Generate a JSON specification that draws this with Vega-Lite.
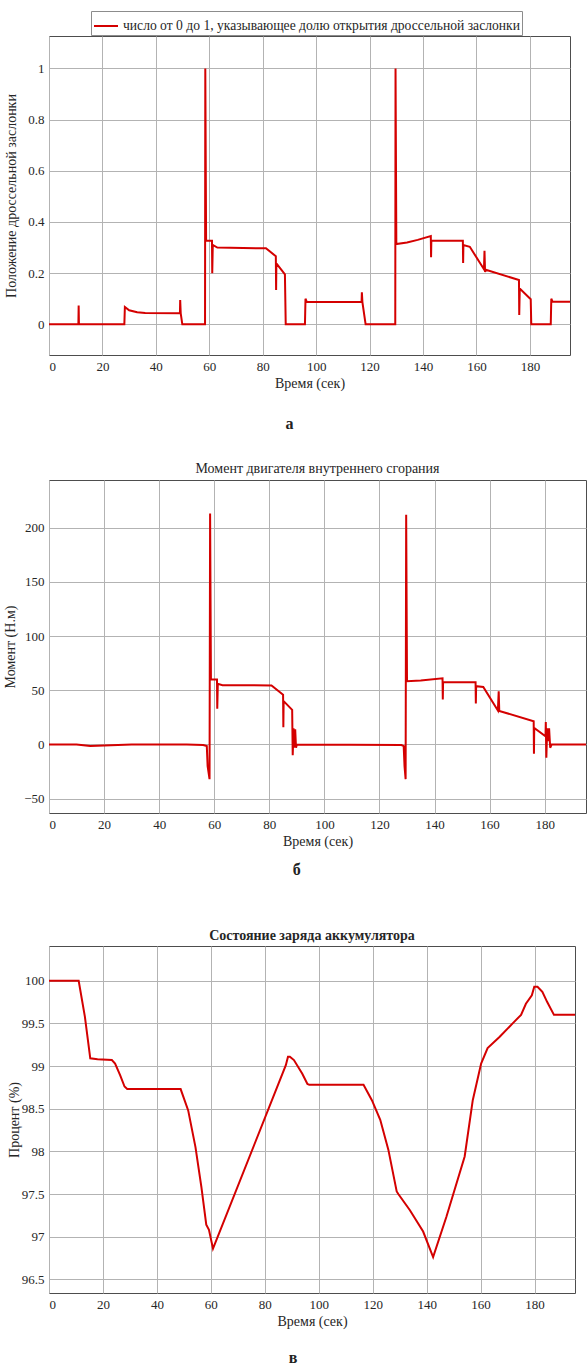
{
  "$schema": "https://vega.github.io/schema/vega-lite/v6.json",
  "padding": {"left": 3, "top": 10, "right": 0, "bottom": 0},
  "background": "white",
  "spacing": 29,
  "config": {
    "font": "Liberation Serif",
    "view": {"stroke": "#4d4d4d", "strokeWidth": 1},
    "axis": {"labelFont": "Liberation Serif", "labelFontSize": 13, "labelColor": "#262626", "titleFont": "Liberation Serif", "titleFontSize": 14, "titleFontWeight": "normal", "titleColor": "#262626", "gridColor": "#b3b3b3", "gridOpacity": 1, "domain": false, "ticks": false, "labelPadding": 5},
    "axisX": {"titlePadding": 3},
    "title": {"font": "Liberation Serif", "fontSize": 14, "color": "#262626"}
  },
  "datasets": {
    "throttle": [
      {"t": 0, "v": 0}, {"t": 11.0, "v": 0}, {"t": 11.1, "v": 0.073}, {"t": 11.2, "v": 0},
      {"t": 28.2, "v": 0}, {"t": 28.4, "v": 0.068}, {"t": 30, "v": 0.055}, {"t": 33, "v": 0.047}, {"t": 36, "v": 0.044},
      {"t": 49.0, "v": 0.043}, {"t": 49.1, "v": 0.095}, {"t": 49.3, "v": 0.043}, {"t": 49.9, "v": 0},
      {"t": 58.4, "v": 0}, {"t": 58.5, "v": 1.0}, {"t": 58.8, "v": 0.327}, {"t": 61.0, "v": 0.327}, {"t": 61.1, "v": 0.2},
      {"t": 61.3, "v": 0.31}, {"t": 63, "v": 0.3}, {"t": 81.2, "v": 0.297}, {"t": 84.9, "v": 0.266}, {"t": 85.0, "v": 0.134},
      {"t": 85.1, "v": 0.238}, {"t": 88.3, "v": 0.195}, {"t": 88.6, "v": 0},
      {"t": 95.8, "v": 0}, {"t": 96.0, "v": 0.1}, {"t": 96.5, "v": 0.087}, {"t": 117.0, "v": 0.087}, {"t": 117.1, "v": 0.125},
      {"t": 117.3, "v": 0.087}, {"t": 118.5, "v": 0},
      {"t": 129.6, "v": 0}, {"t": 129.7, "v": 1.0}, {"t": 130.0, "v": 0.314}, {"t": 134, "v": 0.32}, {"t": 138, "v": 0.33},
      {"t": 142.9, "v": 0.345}, {"t": 143.0, "v": 0.262}, {"t": 143.1, "v": 0.327}, {"t": 154.9, "v": 0.327}, {"t": 155.0, "v": 0.24},
      {"t": 155.1, "v": 0.31}, {"t": 157.5, "v": 0.303}, {"t": 162.8, "v": 0.215}, {"t": 163.0, "v": 0.287}, {"t": 163.2, "v": 0.205},
      {"t": 163.5, "v": 0.213}, {"t": 175.9, "v": 0.173}, {"t": 176.0, "v": 0.036}, {"t": 176.2, "v": 0.14}, {"t": 180.3, "v": 0.098},
      {"t": 180.5, "v": 0}, {"t": 187.8, "v": 0}, {"t": 188.0, "v": 0.1}, {"t": 188.5, "v": 0.088}, {"t": 195, "v": 0.088}
    ],
    "torque": [
      {"t": 0, "v": 0}, {"t": 10, "v": 0}, {"t": 15, "v": -1.5}, {"t": 20, "v": -1}, {"t": 25, "v": -0.5}, {"t": 30, "v": 0},
      {"t": 50, "v": 0}, {"t": 56, "v": -0.5}, {"t": 57.3, "v": -1.5}, {"t": 57.6, "v": -20}, {"t": 58.3, "v": -32},
      {"t": 58.5, "v": 213}, {"t": 58.8, "v": 60}, {"t": 61.0, "v": 60}, {"t": 61.1, "v": 33}, {"t": 61.3, "v": 56},
      {"t": 63, "v": 54.7}, {"t": 80.8, "v": 54.5}, {"t": 85.0, "v": 46}, {"t": 85.1, "v": 16}, {"t": 85.2, "v": 40},
      {"t": 88.3, "v": 32}, {"t": 88.5, "v": -10}, {"t": 88.8, "v": 15}, {"t": 89.1, "v": -3}, {"t": 89.4, "v": 14},
      {"t": 89.7, "v": -3}, {"t": 90, "v": 0}, {"t": 128, "v": -0.5}, {"t": 128.8, "v": -1.5}, {"t": 129.1, "v": -20},
      {"t": 129.5, "v": -32}, {"t": 129.7, "v": 212}, {"t": 130.0, "v": 58.4}, {"t": 135, "v": 59}, {"t": 142.9, "v": 61},
      {"t": 143.0, "v": 41.5}, {"t": 143.1, "v": 57.5}, {"t": 154.9, "v": 57.5}, {"t": 155.0, "v": 37.8}, {"t": 155.1, "v": 53.8},
      {"t": 157.7, "v": 53}, {"t": 163.0, "v": 31.4}, {"t": 163.3, "v": 49}, {"t": 163.5, "v": 31}, {"t": 176.0, "v": 21.5},
      {"t": 176.1, "v": -8.6}, {"t": 176.2, "v": 15.3}, {"t": 180.3, "v": 7.6}, {"t": 180.4, "v": 20.8}, {"t": 180.6, "v": -12.3},
      {"t": 180.9, "v": 15}, {"t": 181.2, "v": 3}, {"t": 181.6, "v": 15}, {"t": 182, "v": -3}, {"t": 182.5, "v": 0}, {"t": 195, "v": 0}
    ],
    "soc": [
      {"t": 0, "v": 100}, {"t": 11, "v": 100}, {"t": 13.3, "v": 99.58}, {"t": 15.3, "v": 99.09}, {"t": 18, "v": 99.08},
      {"t": 23.3, "v": 99.07}, {"t": 24.5, "v": 99.03}, {"t": 26.4, "v": 98.89}, {"t": 28, "v": 98.76}, {"t": 29, "v": 98.73},
      {"t": 48.8, "v": 98.73}, {"t": 51.6, "v": 98.48}, {"t": 54.3, "v": 98.05}, {"t": 56.5, "v": 97.58}, {"t": 58.3, "v": 97.14},
      {"t": 59.3, "v": 97.08}, {"t": 60.8, "v": 96.86}, {"t": 87.8, "v": 99.01}, {"t": 88.6, "v": 99.11}, {"t": 89.3, "v": 99.11},
      {"t": 90.8, "v": 99.07}, {"t": 93.9, "v": 98.91}, {"t": 95.8, "v": 98.79}, {"t": 96.5, "v": 98.78}, {"t": 116.6, "v": 98.78},
      {"t": 119.7, "v": 98.6}, {"t": 122.8, "v": 98.37}, {"t": 125.8, "v": 98.02}, {"t": 128.9, "v": 97.53}, {"t": 129.5, "v": 97.5},
      {"t": 133.8, "v": 97.31}, {"t": 138.7, "v": 97.06}, {"t": 142.4, "v": 96.76}, {"t": 147.3, "v": 97.23}, {"t": 154.1, "v": 97.94},
      {"t": 157.1, "v": 98.6}, {"t": 160.2, "v": 99.03}, {"t": 162.6, "v": 99.21}, {"t": 167, "v": 99.34}, {"t": 171.9, "v": 99.5},
      {"t": 175, "v": 99.6}, {"t": 176.8, "v": 99.73}, {"t": 179, "v": 99.83}, {"t": 179.9, "v": 99.93}, {"t": 181.1, "v": 99.93},
      {"t": 182.9, "v": 99.87}, {"t": 184.7, "v": 99.75}, {"t": 187.2, "v": 99.6}, {"t": 195, "v": 99.6}
    ]
  },
  "vconcat": [
    {
      "title": {"text": "а", "orient": "bottom", "anchor": "middle", "frame": "bounds", "font": "Liberation Serif", "fontWeight": "bold", "fontSize": 16, "offset": 25, "color": "#222"},
      "vconcat": [
        {
          "width": 521, "height": 319,
          "data": {"name": "throttle"},
          "mark": {"type": "line", "strokeWidth": 2, "interpolate": "linear"},
          "encoding": {
            "x": {"field": "t", "type": "quantitative", "scale": {"domain": [0, 195], "nice": false, "zero": false},
                  "axis": {"values": [0, 20, 40, 60, 80, 100, 120, 140, 160, 180], "title": "Время (сек)"}},
            "y": {"field": "v", "type": "quantitative", "scale": {"domain": [-0.12, 1.127], "nice": false, "zero": false},
                  "axis": {"values": [0, 0.2, 0.4, 0.6, 0.8, 1], "format": "~g", "title": "Положение дроссельной заслонки", "titlePadding": 9}},
            "color": {"datum": "число от 0 до 1, указывающее долю открытия дроссельной заслонки", "type": "nominal",
                      "scale": {"range": ["#d40000"]},
                      "legend": {"orient": "none", "legendX": 42, "legendY": -25, "direction": "horizontal", "title": null, "symbolType": "stroke", "symbolSize": 576, "symbolStrokeWidth": 2,
                                 "labelFont": "Liberation Serif", "labelFontSize": 13.6, "labelColor": "#262626", "labelLimit": 700,
                                 "strokeColor": "#8c8c8c", "fillColor": "white", "padding": 2}}
          }
        }
      ]
    },
    {
      "title": {"text": ["б", " "], "orient": "bottom", "anchor": "middle", "frame": "bounds", "font": "Liberation Serif", "fontWeight": "bold", "fontSize": 16, "lineHeight": 21, "offset": 13, "color": "#222"},
      "vconcat": [
        {
          "title": {"text": "Момент двигателя внутреннего сгорания", "fontWeight": "normal", "offset": 4, "anchor": "middle", "frame": "group"},
          "width": 537, "height": 333,
          "data": {"name": "torque"},
          "mark": {"type": "line", "strokeWidth": 2, "color": "#d40000"},
          "encoding": {
            "x": {"field": "t", "type": "quantitative", "scale": {"domain": [0, 195], "nice": false, "zero": false},
                  "axis": {"values": [0, 20, 40, 60, 80, 100, 120, 140, 160, 180], "title": "Время (сек)"}},
            "y": {"field": "v", "type": "quantitative", "scale": {"domain": [-63.2, 244], "nice": false, "zero": false},
                  "axis": {"values": [-50, 0, 50, 100, 150, 200], "title": "Момент (Н.м)", "titlePadding": 6}}
          }
        }
      ]
    },
    {
      "title": {"text": "в", "orient": "bottom", "anchor": "middle", "frame": "bounds", "font": "Liberation Serif", "fontWeight": "bold", "fontSize": 16, "offset": 21, "color": "#222"},
      "vconcat": [
        {
          "title": {"text": "Состояние заряда аккумулятора", "fontWeight": "bold", "offset": 3, "anchor": "middle", "frame": "group"},
          "width": 526, "height": 347,
          "data": {"name": "soc"},
          "mark": {"type": "line", "strokeWidth": 2, "color": "#d40000"},
          "encoding": {
            "x": {"field": "t", "type": "quantitative", "scale": {"domain": [0, 195], "nice": false, "zero": false},
                  "axis": {"values": [0, 20, 40, 60, 80, 100, 120, 140, 160, 180], "title": "Время (сек)"}},
            "y": {"field": "v", "type": "quantitative", "scale": {"domain": [96.34, 100.407], "nice": false, "zero": false},
                  "axis": {"values": [96.5, 97, 97.5, 98, 98.5, 99, 99.5, 100], "format": "~g", "title": "Процент (%)", "titlePadding": 0}}
          }
        }
      ]
    }
  ]
}
